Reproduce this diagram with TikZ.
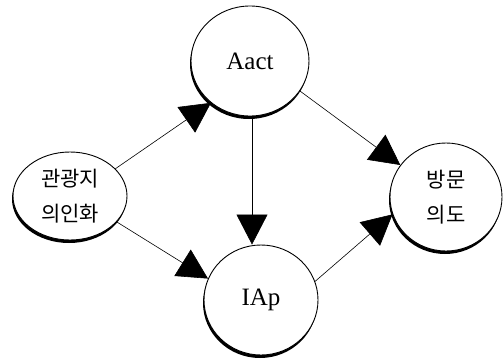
\documentclass[tikz,border=0pt]{standalone}
\usepackage{fontspec}
\setmainfont{Liberation Serif}
\newfontfamily\kor{Noto Sans CJK KR}
\usetikzlibrary{shapes.geometric,shadows,arrows.meta}
\begin{document}
\begin{tikzpicture}[x=1pt,y=-1pt,
  bubble/.style={ellipse,draw,line width=0.9pt,fill=white,inner sep=0pt,
    drop shadow={shadow xshift=-1pt,shadow yshift=-3pt,fill=black,opacity=1}},
  hangul/.style={font=\kor\fontsize{21}{35}\selectfont,align=center},
  latin/.style={font=\fontsize{25}{28}\selectfont},
  link/.style={line width=0.6pt,-{Triangle[length=30pt,width=31pt]}}]
\useasboundingbox (0,0) rectangle (503,361);
\node[bubble,hangul,minimum width=114pt,minimum height=88pt] (img) at (70,196)
  {관광지\\의인화};
\node[bubble,latin,minimum width=118pt,minimum height=110pt] (aact) at (250,61)
  {Aact};
\node[bubble,latin,minimum width=114pt,minimum height=110pt] (iap) at (261,300)
  {IAp};
\node[bubble,hangul,minimum width=112pt,minimum height=108pt] (vis) at (446,197)
  {방문\\의도};
\draw[link] (img.31) -- (aact.227);
\draw[link] (img.-29) -- (iap.158);
\draw[link] (aact.south -| 252,0) -- (iap.north -| 252,0);
\draw[link] (aact.-31) -- (vis.145);
\draw[link] (iap.19) -- (vis.198);
\end{tikzpicture}
\end{document}
